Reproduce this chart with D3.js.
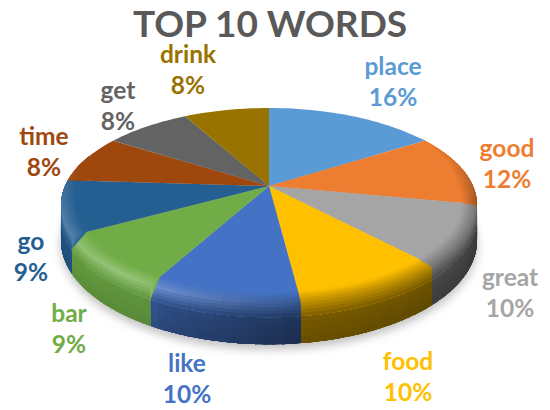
<!DOCTYPE html>
<html>
<head>
<meta charset="utf-8">
<script src="https://cdn.jsdelivr.net/npm/d3@7/dist/d3.min.js"></script>
<style>
html,body{margin:0;padding:0;background:#fff}
svg{display:block}
text{font-family:Lato,"Open Sans",sans-serif;font-weight:700;text-anchor:middle}
</style>
</head>
<body>
<svg id="chart" width="550" height="410"></svg>
<script>
// Word frequencies
const words = ["place","good","great","food","like","bar","go","time","get","drink"];
const shares = [16,12,10,10,10,9,9,8,8,8];
const sliceColors = ["#5b9bd5","#ed7d31","#a5a5a5","#ffc000","#4472c4","#70ad47","#255e91","#9e480e","#636363","#997300"];

// Label centres for the word line; the percentage sits one line below
const labelCentres = [[393,66],[507,148],[510,277],[408,361],[187,363],[69,313],[31,241],[44,136],[118,90],[188,54]];
const lineGap = 31;

// Pie projection: a disc tilted away from the viewer
const cx = 269, cy = 186, radiusX = 204, radiusY = 93.3, perspective = 0.196, thickness = 34;
const xPos = d3.scaleLinear().domain([-1,1]).range([cx-radiusX,cx+radiusX]);
const yPos = d3.scaleLinear().domain([-1,1]).range([cy+radiusY,cy-radiusY]);

function project(theta, r, drop){
  const u = r*Math.sin(theta), v = r*Math.cos(theta), w = 1+perspective*v;
  return [xPos(u/w), yPos(v/w)+(drop||0)*thickness/w];
}

const svg = d3.select("#chart");
const line = d3.line();
const TAU = Math.PI*2;
const arcs = d3.pie().sort(null).value(d=>d)(shares);

svg.append("defs").append("filter").attr("id","soft")
  .attr("x","-20%").attr("y","-30%").attr("width","140%").attr("height","170%")
  .append("feGaussianBlur").attr("stdDeviation",5);

// Lighting around the rim, angle in degrees clockwise from the top
const wallLight = d3.scaleLinear().domain([100,175,207,210,240,270]).range([.42,.5,.72,.88,.92,.95]).clamp(true);
const rimGlow = d3.scaleLinear().domain([170,215,255,285]).range([0,.26,.2,0]).clamp(true);
const rimDark = d3.scaleLinear().domain([60,100,185,215]).range([0,.55,.45,0]).clamp(true);
const faceReach = d3.scaleLinear().domain([55,85,265,290]).range([0,1,1,0]).clamp(true);
const lipReach = d3.scaleLinear().domain([98,108,252,260]).range([0,1,1,0]).clamp(true);

const toDeg = t => t*360/TAU;
const wallColour = (base,theta,depth) => d3.interpolateRgb("#000",base)(wallLight(toDeg(theta))-depth*.1);

function sampleAngles(a0,a1,step){
  const n = Math.max(1,Math.round((a1-a0)/step));
  return d3.range(n+1).map(i=>a0+(a1-a0)*i/n);
}

// Ground shadow below the disc
const outline = sampleAngles(0,TAU,TAU/180);
svg.append("path")
  .attr("d",line(outline.map(t=>project(t,1,1)))+"Z")
  .attr("transform","translate(0,5)")
  .attr("fill","#8a8a8a").attr("opacity",.55).attr("filter","url(#soft)");

const wallLayer = svg.append("g");
const topLayer = svg.append("g");
const edgeLayer = svg.append("g");
const overlap = TAU/1000;
const wallTiers = 6, edgeBands = 9, lipShare = .36, faceShare = .07;

arcs.forEach((slice,i)=>{
  const base = sliceColors[i];
  const steps = sampleAngles(slice.startAngle,slice.endAngle,TAU/180);
  const spans = d3.pairs(steps).map(([a,b])=>[a,Math.min(b+overlap,slice.endAngle)]);

  // Outer wall, each tier painted from its own level down to the base
  d3.range(wallTiers).forEach(k=>{
    const d0 = k/wallTiers;
    spans.forEach(([a,b])=>{
      const mid = (a+b)/2;
      if (Math.cos(mid) > 0.3) return;
      wallLayer.append("path")
        .attr("d",line([project(a,1,d0),project(b,1,d0),project(b,1,1),project(a,1,1)])+"Z")
        .attr("fill",wallColour(base,mid,d0));
    });
  });

  // Top face
  const rim = sampleAngles(slice.startAngle,slice.endAngle,TAU/180).map(t=>project(t,1,0));
  topLayer.append("path").attr("d",line([[cx,cy],...rim])+"Z").attr("fill",base);

  // Rounded edge: colour bands from the top face over the lip of the wall
  const contour = (t,s) => {
    const deg = toDeg(t);
    return s < .5 ? project(t,1-(.5-s)*2*faceShare*faceReach(deg),0)
                  : project(t,1,(s-.5)*2*lipShare*lipReach(deg));
  };
  d3.range(edgeBands).forEach(j=>{
    const s0 = j/edgeBands, sm = (j+.5)/edgeBands;
    spans.forEach(([a,b])=>{
      const mid = (a+b)/2, deg = toDeg(mid);
      if (faceReach(deg) <= 0) return;
      const dark = wallColour(base,mid,0);
      const crest = d3.interpolateRgb(d3.interpolateRgb(base,dark)(rimDark(deg)),"#fff")(rimGlow(deg));
      const fill = sm < .5 ? d3.interpolateRgb(base,crest)(sm*2) : d3.interpolateRgb(crest,dark)((sm-.5)*2);
      edgeLayer.append("path")
        .attr("d",line([contour(a,s0),contour(b,s0),contour(b,1),contour(a,1)])+"Z")
        .attr("fill",fill);
    });
  });
});

// Category and percentage labels
const labels = svg.append("g");
words.forEach((word,i)=>{
  const [x,y] = labelCentres[i];
  labels.append("text").attr("x",x).attr("y",y).attr("dy","0.35em")
    .attr("font-size",24.5).attr("fill",sliceColors[i]).text(word);
  labels.append("text").attr("x",x).attr("y",y+lineGap).attr("dy","0.35em")
    .attr("font-size",24.5).attr("fill",sliceColors[i]).text(shares[i]+"%");
});

// Title
svg.append("text").attr("x",270).attr("y",37)
  .attr("font-size",37).attr("fill","#595959").text("TOP 10 WORDS");
</script>
</body>
</html>
